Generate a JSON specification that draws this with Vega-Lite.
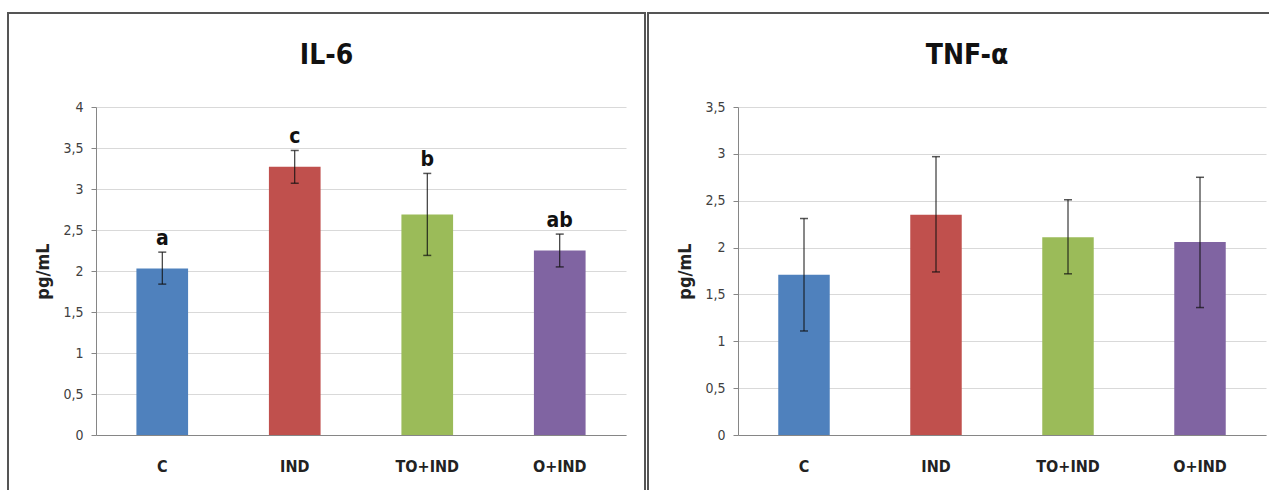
{
  "$schema": "https://vega.github.io/schema/vega-lite/v6.json",
  "background": "white",
  "padding": {"left": 7, "top": 12, "right": 0, "bottom": 0},
  "config": {
    "view": {"stroke": "#555555", "strokeWidth": 2},
    "font": "DejaVu Sans Condensed, Liberation Sans, sans-serif",
    "concat": {"spacing": 1}
  },
  "datasets": {
    "il6": [
      {"group": "C", "mean": 2.03, "lo": 1.84, "hi": 2.23, "letter": "a"},
      {"group": "IND", "mean": 3.27, "lo": 3.07, "hi": 3.47, "letter": "c"},
      {"group": "TO+IND", "mean": 2.69, "lo": 2.19, "hi": 3.19, "letter": "b"},
      {"group": "O+IND", "mean": 2.25, "lo": 2.05, "hi": 2.45, "letter": "ab"}
    ],
    "tnf": [
      {"group": "C", "mean": 1.71, "lo": 1.11, "hi": 2.31},
      {"group": "IND", "mean": 2.35, "lo": 1.74, "hi": 2.97},
      {"group": "TO+IND", "mean": 2.11, "lo": 1.72, "hi": 2.51},
      {"group": "O+IND", "mean": 2.06, "lo": 1.36, "hi": 2.75}
    ]
  },
  "hconcat": [
    {
      "width": 637,
      "height": 482,
      "title": {"text": "IL-6", "anchor": "middle", "frame": "group", "offset": -79, "baseline": "alphabetic", "fontSize": 28, "fontWeight": "bold", "color": "#111111"},
      "data": {"name": "il6"},
      "encoding": {
        "x": {
          "field": "group", "type": "nominal", "sort": ["C", "IND", "TO+IND", "O+IND"],
          "scale": {"range": [88, 618], "paddingInner": 0.61, "paddingOuter": 0.305},
          "axis": {"title": null, "offset": -60, "labelAngle": 0, "ticks": false, "domainColor": "#868686", "labelFontSize": 16, "labelFontWeight": "bold", "labelColor": "#222222", "labelPadding": 23, "grid": false}
        }
      },
      "layer": [
        {
          "mark": {"type": "bar"},
          "encoding": {
            "y": {
              "field": "mean", "type": "quantitative",
              "scale": {"domain": [0, 4], "range": [422, 94], "nice": false, "zero": true},
              "axis": {"title": "pg/mL", "offset": -88, "values": [0, 0.5, 1, 1.5, 2, 2.5, 3, 3.5, 4], "labelExpr": "replace(format(datum.value, '.1~f'), '.', ',')", "grid": true, "gridColor": "#d9d9d9", "domainColor": "#868686", "tickColor": "#868686", "tickSize": 5, "labelPadding": 8, "labelFontSize": 14, "labelColor": "#404040", "titleFontSize": 18, "titleFontWeight": "bold", "titleColor": "#222222", "titlePadding": 10}
            },
            "color": {
              "field": "group", "type": "nominal", "legend": null,
              "scale": {"domain": ["C", "IND", "TO+IND", "O+IND"], "range": ["#4f81bd", "#c0504d", "#9bbb59", "#8064a2"]}
            }
          }
        },
        {
          "mark": {"type": "rule", "color": "#111111", "strokeWidth": 1},
          "encoding": {"y": {"field": "lo", "type": "quantitative"}, "y2": {"field": "hi"}}
        },
        {
          "mark": {"type": "tick", "color": "#111111", "size": 8, "thickness": 1.5},
          "encoding": {"y": {"field": "lo", "type": "quantitative"}}
        },
        {
          "mark": {"type": "tick", "color": "#111111", "size": 8, "thickness": 1.5},
          "encoding": {"y": {"field": "hi", "type": "quantitative"}}
        },
        {
          "mark": {"type": "text", "dy": -7, "baseline": "alphabetic", "fontSize": 21, "fontWeight": "bold", "color": "#111111"},
          "encoding": {"y": {"field": "hi", "type": "quantitative"}, "text": {"field": "letter"}}
        }
      ]
    },
    {
      "width": 638,
      "height": 482,
      "title": {"text": "TNF-α", "anchor": "middle", "frame": "group", "offset": -79, "baseline": "alphabetic", "fontSize": 28, "fontWeight": "bold", "color": "#111111"},
      "data": {"name": "tnf"},
      "encoding": {
        "x": {
          "field": "group", "type": "nominal", "sort": ["C", "IND", "TO+IND", "O+IND"],
          "scale": {"range": [90, 618], "paddingInner": 0.61, "paddingOuter": 0.305},
          "axis": {"title": null, "offset": -60, "labelAngle": 0, "ticks": false, "domainColor": "#868686", "labelFontSize": 16, "labelFontWeight": "bold", "labelColor": "#222222", "labelPadding": 23, "grid": false}
        }
      },
      "layer": [
        {
          "mark": {"type": "bar"},
          "encoding": {
            "y": {
              "field": "mean", "type": "quantitative",
              "scale": {"domain": [0, 3.5], "range": [422, 94], "nice": false, "zero": true},
              "axis": {"title": "pg/mL", "offset": -90, "values": [0, 0.5, 1, 1.5, 2, 2.5, 3, 3.5], "labelExpr": "replace(format(datum.value, '.1~f'), '.', ',')", "grid": true, "gridColor": "#d9d9d9", "domainColor": "#868686", "tickColor": "#868686", "tickSize": 5, "labelPadding": 8, "labelFontSize": 14, "labelColor": "#404040", "titleFontSize": 18, "titleFontWeight": "bold", "titleColor": "#222222", "titlePadding": 10}
            },
            "color": {
              "field": "group", "type": "nominal", "legend": null,
              "scale": {"domain": ["C", "IND", "TO+IND", "O+IND"], "range": ["#4f81bd", "#c0504d", "#9bbb59", "#8064a2"]}
            }
          }
        },
        {
          "mark": {"type": "rule", "color": "#111111", "strokeWidth": 1},
          "encoding": {"y": {"field": "lo", "type": "quantitative"}, "y2": {"field": "hi"}}
        },
        {
          "mark": {"type": "tick", "color": "#111111", "size": 8, "thickness": 1.5},
          "encoding": {"y": {"field": "lo", "type": "quantitative"}}
        },
        {
          "mark": {"type": "tick", "color": "#111111", "size": 8, "thickness": 1.5},
          "encoding": {"y": {"field": "hi", "type": "quantitative"}}
        }
      ]
    }
  ]
}
